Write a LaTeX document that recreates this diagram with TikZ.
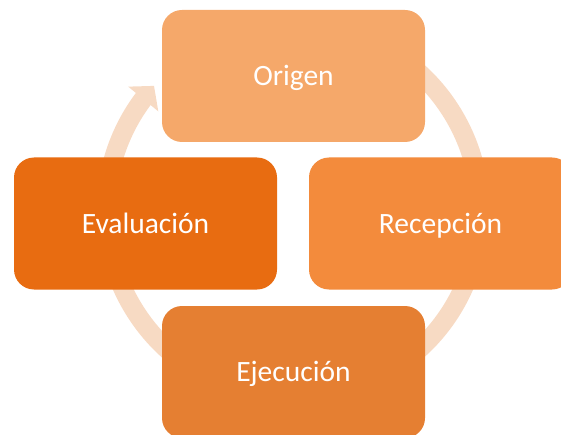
\documentclass[tikz,border=0pt]{standalone}
\usepackage{fontspec}
\setmainfont{Carlito}
\usetikzlibrary{arrows.meta,bending}
\definecolor{ring}{RGB}{247,218,195}
\definecolor{cOrigen}{RGB}{245,168,106}
\definecolor{cRecep}{RGB}{243,139,60}
\definecolor{cEjec}{RGB}{229,127,50}
\definecolor{cEval}{RGB}{232,108,17}
\tikzset{
  phasebox/.style={rounded corners=20pt, minimum width=263pt, minimum height=132pt,
    inner sep=0pt, text=white, font=\fontsize{29.5}{31}\selectfont,
    text height=19pt, text depth=0pt},
  ringline/.style={draw=ring, line width=19pt,
    -{Triangle[width=38pt,length=17pt,flex]}}
}
\begin{document}
\begin{tikzpicture}[x=1pt,y=1pt]
\useasboundingbox (0,0) rectangle (561,434);
\clip (0,0) rectangle (561,434);
\coordinate (ctr) at (293,223);
\draw[ringline] (ctr) ++(480:187) arc[start angle=480, end angle=138, radius=187];
\node[phasebox, fill=cOrigen] (origen) at (293.5,358) {Origen};
\node[phasebox, fill=cRecep] (recep) at (440.5,210.5) {Recepción};
\node[phasebox, fill=cEjec] (ejec) at (293.5,62) {Ejecución};
\node[phasebox, fill=cEval] (eval) at (145.5,210.5) {Evaluación};
\end{tikzpicture}
\end{document}
